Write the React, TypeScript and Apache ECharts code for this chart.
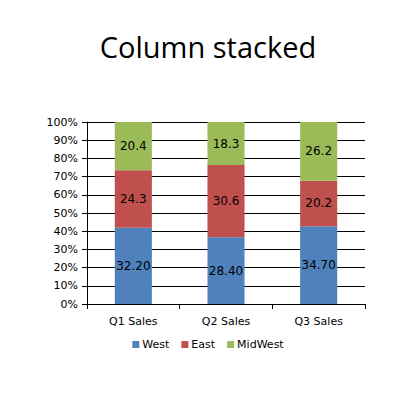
import { useEffect, useRef } from "react";
import * as echarts from "echarts";

const categories = ["Q1 Sales", "Q2 Sales", "Q3 Sales"];
const seriesNames = ["West", "East", "MidWest"];
const west = [32.2, 28.4, 34.7];
const east = [24.3, 30.6, 20.2];
const midWest = [20.4, 18.3, 26.2];
const decimals = [2, 1, 1];
const colors = ["#4F81BD", "#C0504D", "#9BBB59"];
const yTicks = [0, 10, 20, 30, 40, 50, 60, 70, 80, 90, 100];

export default function App() {
  const ref = useRef<HTMLDivElement>(null);

  useEffect(() => {
    document.body.style.margin = "0";
    const el = ref.current;
    if (!el) return;
    const chart = echarts.init(el, undefined, { renderer: "svg" });
    const raw = [west, east, midWest];
    const totals = categories.map((_, i) => raw.reduce((s, arr) => s + arr[i], 0));
    const axisFont = "DejaVu Sans";
    chart.setOption({
      animation: false,
      backgroundColor: "#fff",
      title: {
        text: "Column stacked",
        left: "center",
        top: 27,
        textStyle: { fontFamily: "Open Sans", fontWeight: "normal", fontSize: 29, color: "#000" },
      },
      grid: { left: 87, right: 51, top: 122, bottom: 101 },
      legend: {
        bottom: 50,
        left: "center",
        itemWidth: 7,
        itemHeight: 7,
        itemGap: 12,
        icon: "rect",
        textStyle: { fontFamily: axisFont, fontSize: 11, color: "#000", padding: [0, 0, 0, -2] },
        data: seriesNames,
      },
      xAxis: {
        type: "category",
        data: categories,
        axisLine: { lineStyle: { color: "#000", width: 1 } },
        axisTick: { show: true, length: 5, lineStyle: { color: "#000" } },
        axisLabel: { fontFamily: axisFont, fontSize: 11, color: "#000", margin: 12 },
      },
      yAxis: {
        type: "value",
        min: yTicks[0],
        max: yTicks[yTicks.length - 1],
        interval: 10,
        axisLine: { show: true, lineStyle: { color: "#000", width: 1 } },
        axisTick: { show: true, length: 5, lineStyle: { color: "#000" } },
        splitLine: { lineStyle: { color: "#000", width: 1 } },
        axisLabel: {
          fontFamily: axisFont,
          fontSize: 11,
          color: "#000",
          margin: 9,
          formatter: (v: number) => `${v}%`,
        },
      },
      series: seriesNames.map((name, si) => ({
        name,
        type: "bar",
        stack: "total",
        barWidth: "40%",
        itemStyle: { color: colors[si] },
        label: {
          show: true,
          position: "inside",
          fontFamily: axisFont,
          fontSize: 12,
          color: "#000",
          formatter: (p: { dataIndex: number }) => raw[si][p.dataIndex].toFixed(decimals[si]),
        },
        data: raw[si].map((v, i) => (v / totals[i]) * 100),
      })),
    });
    return () => {
      chart.dispose();
    };
  }, []);

  return <div ref={ref} style={{ width: 416, height: 405 }} />;
}
